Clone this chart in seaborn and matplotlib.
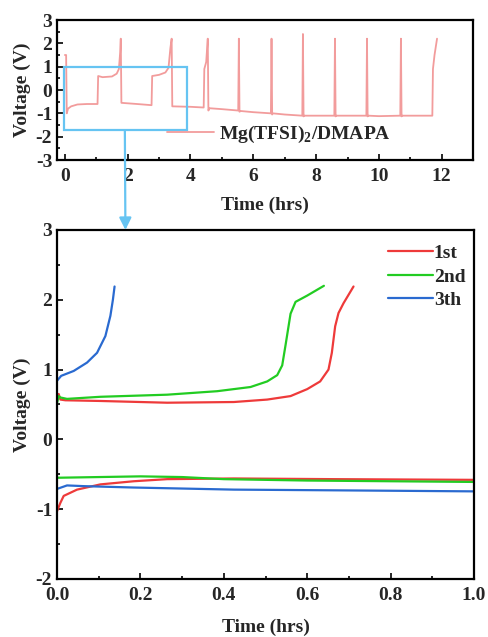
import numpy as np
import pandas as pd
import matplotlib
matplotlib.use("Agg")
import matplotlib.pyplot as plt
import seaborn as sns
from matplotlib.patches import Rectangle, ConnectionPatch
from matplotlib.ticker import MultipleLocator

# ---------------- data ----------------
# overview (top): full cycling curve
top_t = [0.0, 0.04, 0.06, 0.1, 0.2, 0.4, 0.7, 1.04,
         1.06, 1.2, 1.5, 1.65, 1.72, 1.76, 1.78, 1.80,
         2.3, 2.76, 2.78, 3.0, 3.2, 3.3, 3.36, 3.40, 3.42,
         4.0, 4.42, 4.44, 4.5, 4.55, 4.57, 4.6, 5.0, 5.52, 5.54, 5.56,
         5.6, 6.0, 6.56, 6.58, 6.60, 6.62, 7.0, 7.56, 7.58, 7.60, 7.62,
         8.0, 8.58, 8.60, 8.62, 8.64, 9.0, 9.60, 9.62, 9.64, 9.66,
         10.0, 10.68, 10.70, 10.72, 10.74, 11.0, 11.70, 11.72, 11.77, 11.85]
top_v = [1.5, 1.5, -1.0, -0.8, -0.7, -0.62, -0.6, -0.6,
         0.6, 0.55, 0.58, 0.7, 0.9, 1.6, 2.2, -0.55,
         -0.6, -0.65, 0.6, 0.65, 0.75, 0.95, 1.8, 2.2, -0.7,
         -0.72, -0.75, 0.9, 1.2, 2.2, -0.88, -0.78, -0.82, -0.88, 2.2, -0.93,
         -0.9, -0.95, -1.0, 2.2, -1.05, -1.0, -1.05, -1.1, 2.4, -1.13, -1.1,
         -1.1, -1.1, 2.2, -1.13, -1.1, -1.1, -1.1, 2.2, -1.13, -1.1,
         -1.12, -1.1, 2.2, -1.13, -1.1, -1.1, -1.1, 0.9, 1.5, 2.2]

# zoomed (bottom): charge / discharge of cycles 1-3
c1_charge_t = [0.0, 0.004, 0.008, 0.02, 0.104, 0.264, 0.424, 0.504, 0.56, 0.6, 0.631, 0.651, 0.659, 0.667, 0.675, 0.687, 0.699, 0.711]
c1_charge_v = [0.6, 0.65, 0.57, 0.56, 0.55, 0.525, 0.535, 0.57, 0.62, 0.72, 0.83, 1.0, 1.24, 1.62, 1.81, 1.95, 2.07, 2.19]
c1_dis_t = [0.0, 0.008, 0.016, 0.048, 0.104, 0.184, 0.264, 0.424, 0.664, 1.0]
c1_dis_v = [-1.03, -0.91, -0.81, -0.72, -0.645, -0.6, -0.57, -0.56, -0.57, -0.58]

c2_charge_t = [0.0, 0.004, 0.008, 0.024, 0.104, 0.264, 0.384, 0.464, 0.504, 0.528, 0.54, 0.548, 0.56, 0.572, 0.6, 0.62, 0.64]
c2_charge_v = [0.52, 0.62, 0.6, 0.58, 0.61, 0.64, 0.69, 0.75, 0.83, 0.92, 1.06, 1.35, 1.8, 1.97, 2.06, 2.13, 2.2]
c2_dis_t = [0.0, 0.2, 0.3, 0.4, 0.6, 0.8, 1.0]
c2_dis_v = [-0.55, -0.53, -0.54, -0.57, -0.59, -0.6, -0.61]

c3_charge_t = [0.0, 0.01, 0.04, 0.072, 0.096, 0.116, 0.128, 0.134, 0.138]
c3_charge_v = [0.84, 0.91, 0.98, 1.1, 1.24, 1.48, 1.77, 2.0, 2.19]
c3_dis_t = [0.0, 0.024, 0.064, 0.184, 0.424, 0.664, 1.0]
c3_dis_v = [-0.71, -0.66, -0.67, -0.69, -0.72, -0.73, -0.745]

cycle_labels = ["1st", "2nd", "3th"]
cycle_colors = ["#EE3A3A", "#22CC22", "#2A6AD0"]
top_label = r"Mg(TFSI)$_\mathbf{2}$/DMAPA"

# ---------------- style ----------------
sns.set_style("ticks")
plt.rcParams["font.family"] = ["Liberation Serif", "DejaVu Serif"]
plt.rcParams["font.weight"] = "bold"
plt.rcParams["axes.labelweight"] = "bold"
plt.rcParams["axes.unicode_minus"] = False
plt.rcParams["mathtext.fontset"] = "custom"
plt.rcParams["mathtext.rm"] = "Liberation Serif:bold"
plt.rcParams["mathtext.bf"] = "Liberation Serif:bold"
plt.rcParams["axes.linewidth"] = 1.6

fig = plt.figure(figsize=(4.89, 6.37), dpi=100)
ax1 = fig.add_axes([0.1166, 0.7488, 0.851, 0.2198])
ax2 = fig.add_axes([0.1166, 0.0911, 0.8528, 0.5479])

fs = 14

# ---------------- top ----------------
df_top = pd.DataFrame({"t": top_t, "v": top_v, "s": top_label})
sns.lineplot(data=df_top, x="t", y="v", hue="s", palette=["#F29C9C"], sort=False,
             estimator=None, ax=ax1, linewidth=1.3)
ax1.set_xlim(-0.25, 13)
ax1.set_ylim(-3, 3)
ax1.xaxis.set_major_locator(MultipleLocator(2))
ax1.xaxis.set_minor_locator(MultipleLocator(1))
ax1.yaxis.set_major_locator(MultipleLocator(1))
ax1.yaxis.set_minor_locator(MultipleLocator(0.5))
ax1.set_xlabel("Time (hrs)", fontsize=fs, fontweight="bold", labelpad=8)
ax1.set_ylabel("Voltage (V)", fontsize=fs, fontweight="bold", labelpad=3)
h, l = ax1.get_legend_handles_labels()
ax1.legend(h, l, loc="center left", bbox_to_anchor=(0.264, 0.186), frameon=False,
           borderpad=0, borderaxespad=0, handlelength=2.4, handletextpad=0.3,
           prop={"size": 14, "weight": "bold"})
ax1.add_patch(Rectangle((-0.03, -1.72), 3.93, 2.7, fill=False, edgecolor="#66C4F2",
                        linewidth=1.6, zorder=5))

# ---------------- bottom ----------------
rows = []
segs = [(c1_charge_t, c1_charge_v, c1_dis_t, c1_dis_v),
        (c2_charge_t, c2_charge_v, c2_dis_t, c2_dis_v),
        (c3_charge_t, c3_charge_v, c3_dis_t, c3_dis_v)]
for lab, (ct, cv, dt, dv) in zip(cycle_labels, segs):
    for tt, vv in zip(ct, cv):
        rows.append((lab, "charge", tt, vv))
    for tt, vv in zip(dt, dv):
        rows.append((lab, "discharge", tt, vv))
df_bot = pd.DataFrame(rows, columns=["cycle", "seg", "t", "v"])
sns.lineplot(data=df_bot, x="t", y="v", hue="cycle", units="seg", estimator=None,
             sort=False, palette=cycle_colors, hue_order=cycle_labels, ax=ax2, linewidth=1.6)
ax2.set_xlim(0, 1.0)
ax2.set_ylim(-2, 3)
ax2.xaxis.set_major_locator(MultipleLocator(0.2))
ax2.xaxis.set_minor_locator(MultipleLocator(0.1))
ax2.yaxis.set_major_locator(MultipleLocator(1))
ax2.yaxis.set_minor_locator(MultipleLocator(0.5))
ax2.set_xticklabels([f"{x:.1f}" for x in ax2.get_xticks()])
ax2.set_xlabel("Time (hrs)", fontsize=fs, fontweight="bold", labelpad=10)
ax2.set_ylabel("Voltage (V)", fontsize=fs, fontweight="bold", labelpad=3)
h, l = ax2.get_legend_handles_labels()
ax2.legend(h, l, loc="upper left", bbox_to_anchor=(0.794, 0.958), frameon=False,
           borderpad=0, borderaxespad=0, handlelength=2.3, handletextpad=0.05,
           labelspacing=0.3, prop={"size": 14, "weight": "bold"})

for ax in (ax1, ax2):
    ax.tick_params(which="both", direction="in", top=False, right=False,
                   labelsize=fs, width=1.4)
    ax.tick_params(which="major", length=4)
    ax.tick_params(which="minor", length=2)
    ax.tick_params(axis="x", pad=6)
    for lbl in ax.get_xticklabels() + ax.get_yticklabels():
        lbl.set_fontweight("bold")
    for sp in ax.spines.values():
        sp.set_visible(True)
        sp.set_linewidth(1.6)
        sp.set_color("black")

# arrow from zoom box to bottom panel
con = ConnectionPatch(xyA=(1.91, -1.72), coordsA=ax1.transData,
                      xyB=(0.164, 3.0), coordsB=ax2.transData,
                      arrowstyle="-|>", mutation_scale=18, color="#66C4F2",
                      linewidth=1.6, zorder=10)
fig.add_artist(con)

fig.savefig("out.png", dpi=100)
